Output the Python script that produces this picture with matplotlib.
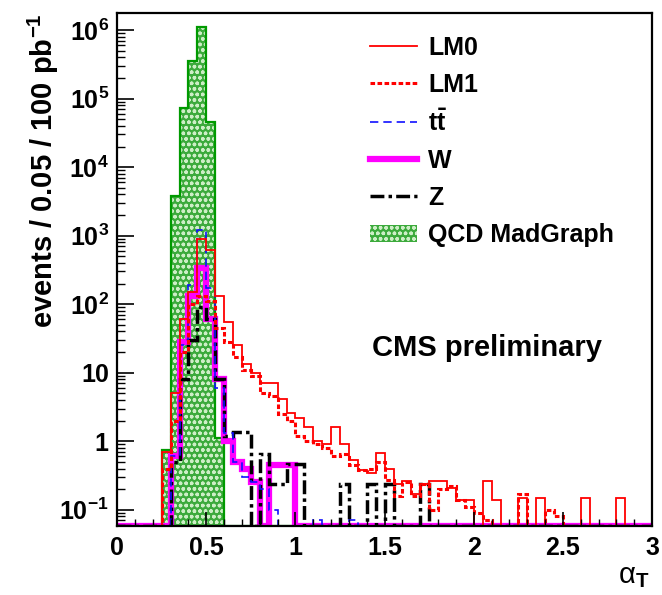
import numpy as np
import matplotlib
matplotlib.use("Agg")
import matplotlib.pyplot as plt
from matplotlib.lines import Line2D
from matplotlib.patches import Patch
from matplotlib.ticker import FixedLocator, FuncFormatter, MultipleLocator, LogLocator

plt.rcParams["font.family"] = ["Liberation Sans", "DejaVu Sans"]
plt.rcParams["font.weight"] = "bold"
plt.rcParams["mathtext.fontset"] = "custom"
plt.rcParams["mathtext.rm"] = "Liberation Sans:bold"
plt.rcParams["mathtext.bf"] = "Liberation Sans:bold"
plt.rcParams["mathtext.it"] = "Liberation Sans:bold:italic"
plt.rcParams["hatch.linewidth"] = 1.0

# alpha_T bins, width 0.05 from 0 to 3
edges = np.round(np.arange(0, 3.0001, 0.05), 3)

qcd = [0, 0, 0, 0, 0, 0.74, 3800, 72000, 350000, 1100000,
       46000, 1.1, 0, 0, 0, 0, 0, 0, 0, 0,
       0, 0, 0, 0, 0, 0, 0, 0, 0, 0,
       0, 0, 0, 0, 0, 0, 0, 0, 0, 0,
       0, 0, 0, 0, 0, 0, 0, 0, 0, 0,
       0, 0, 0, 0, 0, 0, 0, 0, 0, 0]

lm0 = [0, 0, 0, 0, 0, 0.7, 5, 60, 150, 880,
       620, 130, 55, 25, 13.5, 10, 7, 7, 4.2, 2.6,
       2.2, 1.6, 1.0, 0.9, 1.6, 0.9, 0.53, 0.38, 0.34, 0.67,
       0.4, 0.24, 0.26, 0.17, 0.24, 0.26, 0.26, 0.21, 0.14, 0.14,
       0, 0.26, 0.14, 0, 0, 0.15, 0, 0.15, 0, 0,
       0, 0, 0.15, 0, 0, 0, 0.15, 0, 0, 0]

lm1 = [0, 0, 0, 0, 0, 0.4, 2, 20, 100, 130,
       110, 45, 28, 17, 11, 9, 5, 4.5, 2.5, 2.0,
       1.2, 1.0, 0.9, 0.8, 0.6, 0.65, 0.45, 0.38, 0.4, 0.5,
       0.27, 0.16, 0.25, 0.16, 0.24, 0.1, 0.2, 0.22, 0.14, 0.11,
       0.09, 0.07, 0, 0, 0, 0.17, 0, 0, 0.1, 0.08,
       0, 0, 0, 0, 0, 0, 0, 0, 0, 0]

ttbar = [0, 0, 0, 0, 0, 0, 0.6, 25, 190, 1200,
         170, 6, 1.3, 0.5, 0.3, 0.25, 0.2, 0.1, 0, 0,
         0, 0, 0.07, 0, 0, 0, 0.07, 0, 0, 0,
         0, 0, 0, 0, 0, 0, 0, 0, 0, 0,
         0, 0, 0, 0, 0, 0, 0, 0, 0, 0,
         0, 0, 0, 0, 0, 0, 0, 0, 0, 0]

wjets = [0, 0, 0, 0, 0, 0, 0.6, 28, 130, 340,
         60, 8, 1.0, 0.5, 0.4, 0.25, 0, 0.45, 0.45, 0.45,
         0, 0, 0, 0, 0, 0, 0, 0, 0, 0,
         0, 0, 0, 0, 0, 0, 0, 0, 0, 0,
         0, 0, 0, 0, 0, 0, 0, 0, 0, 0,
         0, 0, 0, 0, 0, 0, 0, 0, 0, 0]

zjets = [0, 0, 0, 0, 0, 0, 0.5, 8, 30, 90,
         60, 8, 1.2, 1.35, 1.35, 0, 0.65, 0.24, 0.24, 0.47,
         0.47, 0, 0, 0, 0, 0.24, 0, 0, 0.24, 0,
         0.24, 0, 0, 0, 0.24, 0, 0, 0, 0, 0,
         0, 0, 0, 0, 0, 0, 0, 0, 0, 0,
         0, 0, 0, 0, 0, 0, 0, 0, 0, 0]

ymin, ymax = 0.058, 1.77e6


def floor(v):
    # empty bins sit on the bottom of the frame, like ROOT draws them
    v = np.asarray(v, dtype=float)
    return np.where(v > 0, v, ymin)


fig = plt.figure(figsize=(6.62, 5.95), dpi=100)
ax = fig.add_axes([0.177, 0.116, 0.808, 0.862])

green = "#009a00"
fillc = "#3caa3c"
hatchc = "#cdeec6"
ax.stairs(floor(qcd), edges, baseline=ymin, fill=True,
          facecolor=fillc, edgecolor=hatchc, hatch="ooo", lw=0)
ax.stairs(floor(qcd), edges, baseline=ymin, color=green, lw=1.6)

ax.stairs(floor(wjets), edges, baseline=None, color="#ff00ff", lw=4.5)
ax.stairs(floor(zjets), edges, baseline=None, color="black", lw=2.5,
          linestyle=(0, (4, 1.2, 1, 1.2)))
ax.stairs(floor(ttbar), edges, baseline=None, color="#1010ff", lw=1.2,
          linestyle=(0, (5, 3)))
ax.stairs(floor(lm1), edges, baseline=None, color="red", lw=2.2,
          linestyle=(0, (1.5, 0.8)))
ax.stairs(floor(lm0), edges, baseline=None, color="red", lw=1.3)

ax.set_yscale("log")
ax.set_xlim(0, 3)
ax.set_ylim(ymin, ymax)


def ylab(v, pos):
    k = int(round(np.log10(v)))
    if k == 0:
        return "1"
    if k == 1:
        return "10"
    return r"10$^{\mathbf{%d}}$" % k


ax.yaxis.set_major_locator(FixedLocator([10.0 ** k for k in range(-1, 7)]))
ax.yaxis.set_major_formatter(FuncFormatter(ylab))
ax.yaxis.set_minor_locator(LogLocator(base=10, subs=np.arange(2, 10)))
ax.yaxis.set_minor_formatter(FuncFormatter(lambda v, p: ""))
ax.xaxis.set_major_locator(MultipleLocator(0.5))
ax.xaxis.set_minor_locator(MultipleLocator(0.1))
ax.xaxis.set_major_formatter(FuncFormatter(lambda v, p: "%g" % v))

ax.tick_params(axis="both", which="both", direction="in", labelsize=18,
               top=False, right=False)
ax.tick_params(axis="y", which="major", length=12, width=1.2, pad=6)
ax.tick_params(axis="y", which="minor", length=6, width=1.0)
ax.tick_params(axis="x", which="major", length=10, width=1.2, pad=7)
ax.tick_params(axis="x", which="minor", length=5, width=1.0)
for s in ax.spines.values():
    s.set_linewidth(1.6)

ax.set_ylabel(r"events / 0.05 / 100 pb$^{\mathbf{-1}}$", fontsize=21,
              fontweight="bold", loc="top")
ax.yaxis.set_label_coords(-0.105, 1.0)
ax.set_xlabel(r"α$_{\mathbf{T}}$", fontsize=21, loc="right")
ax.xaxis.set_label_coords(0.995, -0.07)

handles = [
    Line2D([], [], color="red", lw=1.3),
    Line2D([], [], color="red", lw=2.2, linestyle=(0, (1.5, 0.8))),
    Line2D([], [], color="#1010ff", lw=1.2, linestyle=(0, (5, 3))),
    Line2D([], [], color="#ff00ff", lw=4.5),
    Line2D([], [], color="black", lw=2.5, linestyle=(0, (4, 1.2, 1, 1.2))),
    Patch(facecolor=fillc, edgecolor=hatchc, hatch="ooo", lw=0),
]
labels = ["LM0", "LM1", r"t$\mathbf{\bar{t}}$", "W", "Z", "QCD MadGraph"]
ax.legend(handles, labels, loc="upper left", bbox_to_anchor=(0.43, 1.0),
          frameon=False, fontsize=18, handlelength=1.9, handletextpad=0.45,
          labelspacing=0.52)

ax.text(0.477, 0.347, "CMS preliminary", transform=ax.transAxes,
        fontsize=21, fontweight="bold", va="center", ha="left")

fig.savefig("out.png", dpi=100)
